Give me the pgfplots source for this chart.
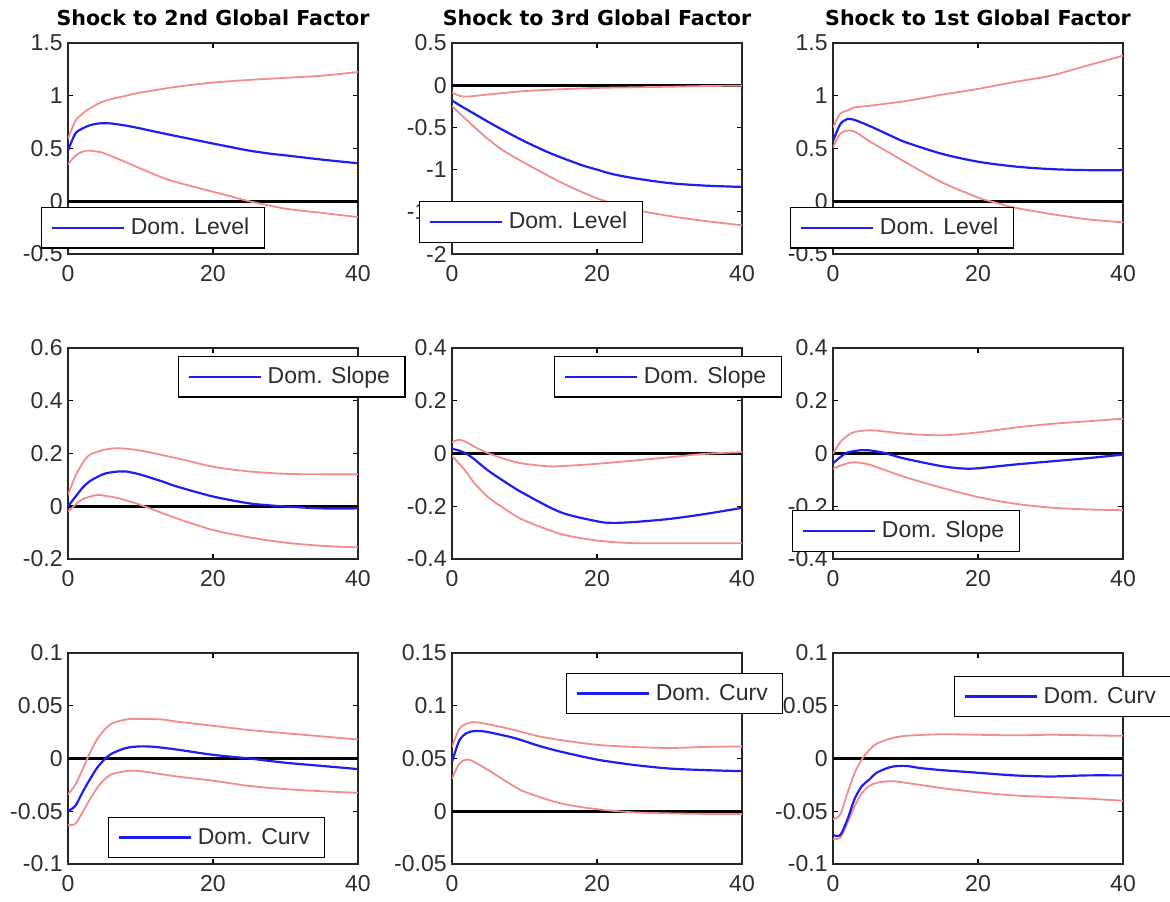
\documentclass[border=0pt]{standalone}
\usepackage{pgfplots}
\pgfplotsset{compat=1.18}
\usepackage{fontspec}
\setmainfont{Liberation Sans}
\newfontfamily\titlefam{DejaVu Sans}
\definecolor{irfblue}{RGB}{30,30,240}
\definecolor{irfred}{RGB}{244,140,140}
\definecolor{tickgray}{RGB}{45,45,45}
\newcommand{\ticksize}{\fontsize{11.5}{13}\selectfont}
\pgfplotsset{
  irf/.style={
    width=145pt, height=105.5pt, scale only axis,
    xmin=0, xmax=40, xtick={0,20,40}, xticklabels={0,20,40},
    tick align=inside, tick pos=both, major tick length=2.5pt,
    axis line style={line width=0.6pt, color=black!85},
    every tick/.style={black, line width=0.6pt},
    tick label style={font=\ticksize, text=tickgray},
    xticklabel style={yshift=-2pt},
    yticklabel style={inner xsep=2.5pt},
    title style={font=\titlefam\bfseries\fontsize{10.3}{12}\selectfont, anchor=base, yshift=3pt, inner sep=0pt},
    legend image code/.code={\draw[##1] (0pt,0pt) -- (36pt,0pt);},
    legend cell align=left,
    legend style={draw=black, line width=0.6pt, fill=white, font=\ticksize, text=tickgray,
      inner xsep=4.5pt, inner ysep=3.2pt, anchor=north west,
      nodes={inner xsep=3pt, inner ysep=2pt}},
  },
  bl/.style={irfblue, line width=1.1pt, smooth},
  rd/.style={irfred, line width=0.9pt, smooth, forget plot},
  zl/.style={black, line width=1.6pt, forget plot},
}
\begin{document}
\begin{tikzpicture}
\path[use as bounding box] (0,0) rectangle (585pt,-450.5pt);
% ---------------- Row 1 ----------------
\begin{axis}[irf, at={(34pt,-21.5pt)}, anchor=north west,
  title={Shock to 2nd Global Factor},
  ymin=-0.5, ymax=1.5, ytick={-0.5,0,0.5,1,1.5}, yticklabels={-0.5,0,0.5,1,1.5},
  legend style={at={(-0.093,0.223)}}]
\addplot[zl] coordinates {(0,0) (40,0)};
\addplot[rd] coordinates {(0,0.59)(1,0.76)(2,0.83)(3,0.88)(5,0.95)(8,1.0)(10,1.03)(15,1.085)(20,1.125)(25,1.15)(30,1.17)(35,1.19)(40,1.225)};
\addplot[rd] coordinates {(0,0.35)(1,0.43)(2,0.47)(3,0.48)(4,0.47)(5,0.455)(8,0.37)(10,0.31)(13,0.225)(15,0.18)(20,0.09)(22,0.055)(25,0.0)(30,-0.07)(35,-0.11)(40,-0.15)};
\addplot[bl] coordinates {(0,0.48)(1,0.64)(2,0.69)(3,0.72)(4,0.735)(5,0.74)(6,0.737)(8,0.717)(10,0.69)(12,0.66)(15,0.617)(18,0.575)(20,0.547)(22,0.52)(25,0.48)(28,0.45)(30,0.435)(35,0.395)(40,0.36)};
\addlegendentry{Dom. Level}
\end{axis}
\begin{axis}[irf, at={(226pt,-21.5pt)}, anchor=north west,
  title={Shock to 3rd Global Factor},
  ymin=-2, ymax=0.5, ytick={-2,-1.5,-1,-0.5,0,0.5}, yticklabels={-2,-1.5,-1,-0.5,0,0.5},
  legend style={at={(-0.114,0.251)}}]
\addplot[zl] coordinates {(0,0) (40,0)};
\addplot[rd] coordinates {(0,-0.085)(1,-0.125)(2,-0.135)(3,-0.128)(5,-0.11)(10,-0.07)(15,-0.048)(20,-0.032)(25,-0.025)(30,-0.018)(35,-0.01)(40,-0.005)};
\addplot[rd] coordinates {(0,-0.245)(1,-0.33)(2,-0.41)(3,-0.49)(5,-0.64)(7,-0.77)(10,-0.92)(15,-1.15)(20,-1.34)(25,-1.47)(30,-1.55)(35,-1.61)(40,-1.66)};
\addplot[bl] coordinates {(0,-0.18)(1,-0.235)(2,-0.285)(3,-0.335)(5,-0.435)(7,-0.53)(10,-0.665)(13,-0.785)(15,-0.855)(18,-0.95)(20,-1.0)(22,-1.05)(25,-1.1)(30,-1.16)(35,-1.19)(40,-1.205)};
\addlegendentry{Dom. Level}
\end{axis}
\begin{axis}[irf, at={(416.5pt,-21.5pt)}, anchor=north west,
  title={Shock to 1st Global Factor},
  ymin=-0.5, ymax=1.5, ytick={-0.5,0,0.5,1,1.5}, yticklabels={-0.5,0,0.5,1,1.5},
  legend style={at={(-0.148,0.223)}}]
\addplot[zl] coordinates {(0,0) (40,0)};
\addplot[rd] coordinates {(0,0.70)(1,0.83)(2,0.86)(3,0.89)(5,0.905)(10,0.95)(15,1.01)(20,1.065)(25,1.13)(30,1.19)(35,1.285)(40,1.38)};
\addplot[rd] coordinates {(0,0.51)(1,0.64)(2,0.67)(3,0.66)(5,0.57)(8,0.45)(10,0.37)(15,0.18)(20,0.035)(22,-0.005)(25,-0.06)(30,-0.12)(35,-0.17)(40,-0.20)};
\addplot[bl] coordinates {(0,0.57)(1,0.73)(2,0.78)(3,0.77)(5,0.715)(8,0.62)(10,0.56)(15,0.45)(20,0.375)(25,0.33)(30,0.305)(35,0.295)(40,0.295)};
\addlegendentry{Dom. Level}
\end{axis}
% ---------------- Row 2 ----------------
\begin{axis}[irf, at={(34pt,-174pt)}, anchor=north west,
  ymin=-0.2, ymax=0.6, ytick={-0.2,0,0.2,0.4,0.6}, yticklabels={-0.2,0,0.2,0.4,0.6},
  legend style={at={(0.379,0.962)}}]
\addplot[zl] coordinates {(0,0) (40,0)};
\addplot[rd] coordinates {(0,0.043)(1,0.113)(2,0.163)(3,0.195)(5,0.214)(7,0.22)(10,0.211)(15,0.182)(20,0.15)(25,0.132)(30,0.123)(35,0.121)(40,0.121)};
\addplot[rd] coordinates {(0,-0.02)(1,0.005)(2,0.027)(4,0.043)(5,0.04)(7,0.03)(10,0.005)(15,-0.046)(20,-0.09)(25,-0.118)(30,-0.138)(35,-0.15)(40,-0.156)};
\addplot[bl] coordinates {(0,0.0)(1,0.035)(2,0.07)(3,0.095)(5,0.123)(7,0.132)(8,0.132)(10,0.12)(13,0.094)(15,0.075)(20,0.037)(25,0.011)(28,0.003)(30,-0.001)(35,-0.008)(40,-0.008)};
\addlegendentry{Dom. Slope}
\end{axis}
\begin{axis}[irf, at={(226pt,-174pt)}, anchor=north west,
  ymin=-0.4, ymax=0.4, ytick={-0.4,-0.2,0,0.2,0.4}, yticklabels={-0.4,-0.2,0,0.2,0.4},
  legend style={at={(0.352,0.962)}}]
\addplot[zl] coordinates {(0,0) (40,0)};
\addplot[rd] coordinates {(0,0.043)(1,0.052)(2,0.043)(3,0.027)(5,0.001)(8,-0.027)(10,-0.039)(13,-0.048)(15,-0.048)(20,-0.039)(25,-0.027)(30,-0.014)(35,-0.001)(40,0.005)};
\addplot[rd] coordinates {(0,-0.008)(1,-0.039)(2,-0.071)(3,-0.109)(5,-0.166)(8,-0.223)(10,-0.254)(15,-0.305)(20,-0.33)(25,-0.34)(30,-0.34)(35,-0.34)(40,-0.34)};
\addplot[bl] coordinates {(0,0.018)(1,0.011)(2,-0.001)(3,-0.02)(5,-0.065)(8,-0.12)(10,-0.153)(15,-0.223)(20,-0.257)(22,-0.263)(25,-0.26)(30,-0.248)(35,-0.229)(40,-0.206)};
\addlegendentry{Dom. Slope}
\end{axis}
\begin{axis}[irf, at={(416.5pt,-174pt)}, anchor=north west,
  ymin=-0.4, ymax=0.4, ytick={-0.4,-0.2,0,0.2,0.4}, yticklabels={-0.4,-0.2,0,0.2,0.4},
  legend style={at={(-0.141,0.232)}}]
\addplot[zl] coordinates {(0,0) (40,0)};
\addplot[rd] coordinates {(0,-0.001)(1,0.043)(2,0.068)(3,0.082)(5,0.088)(7,0.084)(10,0.075)(15,0.069)(20,0.08)(25,0.098)(30,0.112)(35,0.122)(40,0.132)};
\addplot[rd] coordinates {(0,-0.058)(1,-0.046)(2,-0.037)(3,-0.033)(5,-0.042)(8,-0.071)(10,-0.09)(15,-0.13)(20,-0.165)(25,-0.19)(30,-0.205)(35,-0.212)(40,-0.215)};
\addplot[bl] coordinates {(0,-0.037)(1,-0.014)(2,0.004)(4,0.013)(5,0.012)(7,0.003)(8,-0.005)(10,-0.02)(15,-0.048)(18,-0.057)(20,-0.056)(25,-0.042)(30,-0.03)(35,-0.018)(40,-0.004)};
\addlegendentry{Dom. Slope}
\end{axis}
% ---------------- Row 3 ----------------
\begin{axis}[irf, at={(34pt,-326.5pt)}, anchor=north west,
  ymin=-0.1, ymax=0.1, ytick={-0.1,-0.05,0,0.05,0.1}, yticklabels={-0.1,-0.05,0,0.05,0.1},
  legend style={at={(0.138,0.223)}}]
\addplot[zl] coordinates {(0,0) (40,0)};
\addplot[rd] coordinates {(0,-0.034)(1,-0.025)(2,-0.0105)(3,0.005)(4,0.018)(5,0.027)(6,0.033)(8,0.037)(10,0.0375)(13,0.037)(15,0.035)(20,0.031)(25,0.027)(30,0.024)(35,0.021)(40,0.018)};
\addplot[rd] coordinates {(0,-0.063)(1,-0.062)(2,-0.051)(3,-0.039)(4,-0.028)(5,-0.02)(6,-0.015)(8,-0.012)(10,-0.012)(15,-0.017)(20,-0.021)(25,-0.026)(30,-0.029)(35,-0.031)(40,-0.0325)};
\addplot[bl] coordinates {(0,-0.0497)(1,-0.045)(2,-0.032)(3,-0.02)(4,-0.009)(5,-0.001)(6,0.0045)(8,0.01)(10,0.0115)(12,0.011)(15,0.0085)(20,0.0035)(25,0.0)(30,-0.004)(35,-0.007)(40,-0.01)};
\addlegendentry{Dom. Curv}
\end{axis}
\begin{axis}[irf, at={(226pt,-326.5pt)}, anchor=north west,
  ymin=-0.05, ymax=0.15, ytick={-0.05,0,0.05,0.1,0.15}, yticklabels={-0.05,0,0.05,0.1,0.15},
  legend style={at={(0.393,0.905)}}]
\addplot[zl] coordinates {(0,0) (40,0)};
\addplot[rd] coordinates {(0,0.061)(1,0.078)(2,0.083)(3,0.0845)(5,0.0825)(8,0.078)(10,0.0745)(12,0.071)(15,0.0675)(20,0.063)(25,0.061)(30,0.060)(35,0.061)(40,0.0615)};
\addplot[rd] coordinates {(0,0.031)(1,0.045)(2,0.049)(3,0.047)(5,0.039)(8,0.026)(10,0.0185)(15,0.0075)(20,0.002)(25,-0.001)(30,-0.002)(35,-0.0025)(40,-0.0025)};
\addplot[bl] coordinates {(0,0.047)(1,0.067)(2,0.074)(3,0.076)(4,0.076)(5,0.075)(8,0.0705)(10,0.0665)(12,0.062)(15,0.0565)(20,0.049)(25,0.044)(30,0.0405)(35,0.039)(40,0.038)};
\addlegendentry{Dom. Curv}
\end{axis}
\begin{axis}[irf, at={(416.5pt,-326.5pt)}, anchor=north west,
  ymin=-0.1, ymax=0.1, ytick={-0.1,-0.05,0,0.05,0.1}, yticklabels={-0.1,-0.05,0,0.05,0.1},
  legend style={at={(0.417,0.891)}}]
\addplot[zl] coordinates {(0,0) (40,0)};
\addplot[rd] coordinates {(0,-0.0575)(1,-0.053)(2,-0.0325)(3,-0.0135)(4,-0.0005)(5,0.008)(6,0.014)(8,0.019)(10,0.0215)(15,0.023)(20,0.0225)(25,0.022)(30,0.0225)(35,0.022)(40,0.0215)};
\addplot[rd] coordinates {(0,-0.076)(1,-0.075)(2,-0.061)(3,-0.045)(4,-0.0325)(5,-0.026)(6,-0.023)(8,-0.0215)(10,-0.023)(15,-0.028)(20,-0.032)(25,-0.035)(30,-0.0365)(35,-0.038)(40,-0.040)};
\addplot[bl] coordinates {(0,-0.0725)(1,-0.0725)(2,-0.0575)(3,-0.038)(4,-0.026)(5,-0.02)(6,-0.0135)(8,-0.008)(10,-0.007)(12,-0.009)(15,-0.011)(20,-0.0135)(25,-0.016)(30,-0.017)(35,-0.016)(40,-0.016)};
\addlegendentry{Dom. Curv}
\end{axis}
\end{tikzpicture}
\end{document}
